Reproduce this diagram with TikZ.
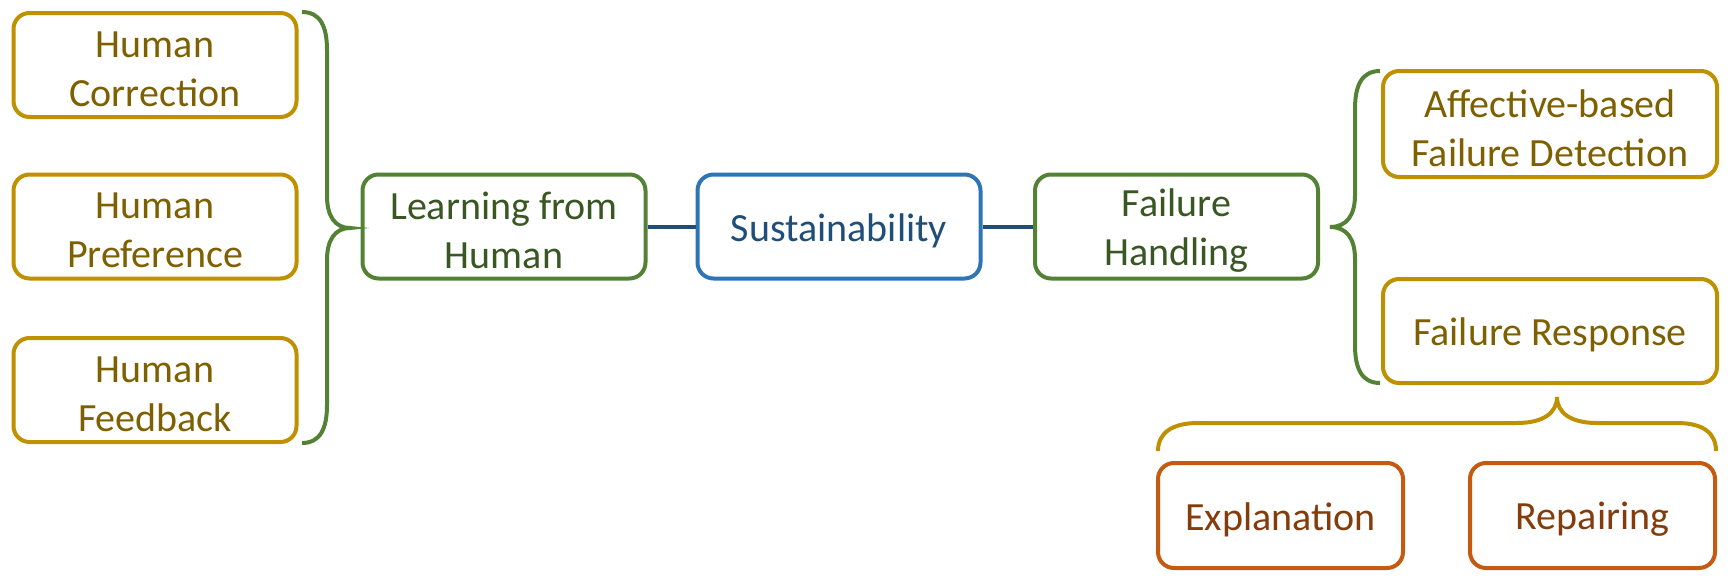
\documentclass[tikz,border=0pt]{standalone}
\usepackage{fontspec}
\setmainfont{Carlito}
\definecolor{goldline}{HTML}{BF9000}
\definecolor{goldtext}{HTML}{7F6000}
\definecolor{greenline}{HTML}{548235}
\definecolor{greentext}{HTML}{385723}
\definecolor{blueline}{HTML}{2E75B6}
\definecolor{bluetext}{HTML}{1F4E79}
\definecolor{orangeline}{HTML}{C55A11}
\definecolor{orangetext}{HTML}{843C0C}
\definecolor{connline}{HTML}{1F4E79}
\tikzset{
  box/.style={draw, line width=2pt, rounded corners=8pt, fill=white,
    inner sep=0pt, minimum width=141.5pt, minimum height=52pt},
  lbl/.style={align=center, inner sep=0pt, yshift=-2pt, font=\fontsize{20}{24.4}\selectfont},
  goldbox/.style={box, draw=goldline},
  greenbox/.style={box, draw=greenline},
  bluebox/.style={box, draw=blueline},
  orangebox/.style={box, draw=orangeline, minimum width=122.5pt, minimum height=52.5pt},
  widebox/.style={goldbox, minimum width=167pt},
  goldlbl/.style={lbl, text=goldtext},
  greenlbl/.style={lbl, text=greentext},
  bluelbl/.style={lbl, text=bluetext},
  orangelbl/.style={lbl, text=orangetext},
  conn/.style={draw=connline, line width=2pt},
  bracegreen/.style={draw=greenline, line width=2pt},
  bracegold/.style={draw=goldline, line width=2pt},
}
\begin{document}
\begin{tikzpicture}[x=0.5pt, y=-0.5pt]
\useasboundingbox (0,0) rectangle (1730,578);
% left column
\node[goldbox, label={[goldlbl]center:Human\\Correction}] (hc) at (155,65) {};
\node[goldbox, label={[goldlbl]center:Human\\Preference}] (hp) at (155,226.5) {};
\node[goldbox, label={[goldlbl]center:Human\\Feedback}] (hf) at (155,390) {};
% middle row
\node[greenbox, label={[greenlbl]center:Learning from\\Human}] (lfh) at (504,226.5) {};
\node[bluebox, label={[bluelbl]center:Sustainability}] (sus) at (839,226.5) {};
\node[greenbox, label={[greenlbl]center:Failure\\Handling}] (fh) at (1176.5,226.5) {};
% right column
\node[widebox, minimum height=53pt, label={[goldlbl]center:Affective-based\\Failure Detection}] (afd) at (1550,124) {};
\node[widebox, label={[goldlbl]center:Failure Response}] (fr) at (1550,331) {};
% bottom
\node[orangebox, label={[orangelbl]center:Explanation}] (exp) at (1280.5,515.5) {};
\node[orangebox, label={[orangelbl]center:Repairing}] (rep) at (1592.5,515.5) {};
% connectors
\draw[conn] (lfh.east) -- (sus.west);
\draw[conn] (sus.east) -- (fh.west);
% left brace
\draw[bracegreen] (302,12) .. controls (320,12) and (327,26) .. (327,50) -- (327,196)
  .. controls (327,216) and (335,228) .. (350,228)
  .. controls (335,228) and (327,240) .. (327,260) -- (327,405)
  .. controls (327,429) and (320,443) .. (302,443);
% right brace
\draw[bracegreen] (1380,71) .. controls (1362,71) and (1355,85) .. (1355,109) -- (1355,195)
  .. controls (1355,215) and (1347,227) .. (1330,227)
  .. controls (1347,227) and (1355,239) .. (1355,259) -- (1355,345)
  .. controls (1355,369) and (1362,383) .. (1380,383);
% bottom brace
\draw[bracegold] (1158,451) .. controls (1158,433) and (1172,423) .. (1198,423) -- (1517,423)
  .. controls (1543,423) and (1557,413) .. (1557,397)
  .. controls (1557,413) and (1571,423) .. (1597,423) -- (1677,423)
  .. controls (1703,423) and (1716,433) .. (1716,451);
\end{tikzpicture}
\end{document}
